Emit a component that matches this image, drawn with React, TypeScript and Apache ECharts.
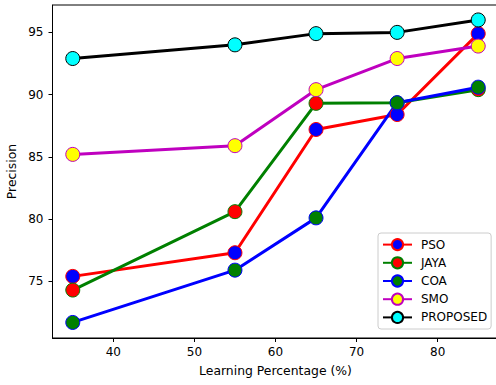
import React, { useEffect, useRef } from "react";
import * as echarts from "echarts";

const learningPct = [35, 55, 65, 75, 85];
const psoValues = [75.4, 77.3, 87.2, 88.4, 94.9];
const jayaValues = [74.3, 80.6, 89.3, 89.35, 90.4];
const coaValues = [71.7, 75.9, 80.1, 89.35, 90.6];
const smoValues = [85.2, 85.9, 90.4, 92.9, 93.9];
const proposedValues = [92.9, 94.0, 94.9, 95.0, 96.0];
const xTicks = [40, 50, 60, 70, 80];
const yTicks = [75, 80, 85, 90, 95];

const seriesDefs = [
  { name: "PSO", data: psoValues, line: "#ff0000", fill: "#0000ff" },
  { name: "JAYA", data: jayaValues, line: "#008000", fill: "#ff0000" },
  { name: "COA", data: coaValues, line: "#0000ff", fill: "#008000" },
  { name: "SMO", data: smoValues, line: "#bf00bf", fill: "#ffff00" },
  { name: "PROPOSED", data: proposedValues, line: "#000000", fill: "#00ffff" },
];

const FONT = "DejaVu Sans";

export default function App() {
  const ref = useRef<HTMLDivElement>(null);
  useEffect(() => {
    if (!ref.current) return;
    const chart = echarts.init(ref.current, undefined, { renderer: "svg" });
    chart.setOption({
      animation: false,
      backgroundColor: "#ffffff",
      textStyle: { fontFamily: FONT },
      grid: {
        left: 52.5,
        right: -2.5,
        top: 5,
        bottom: 47,
        containLabel: false,
        outerBoundsMode: "none",
        show: true,
        borderColor: "#000",
        borderWidth: 1,
        backgroundColor: "transparent",
      },
      xAxis: {
        type: "value",
        min: 32.5,
        max: 87.5,
        name: "Learning Percentage (%)",
        nameLocation: "middle",
        nameGap: 26.5,
        nameTextStyle: { color: "#000", fontSize: 12.4, fontFamily: FONT },
        axisLine: { show: true, lineStyle: { color: "#000", width: 1 } },
        axisTick: { show: true, length: 4, lineStyle: { color: "#000" }, customValues: xTicks },
        axisLabel: { color: "#000", fontSize: 12, fontFamily: FONT, margin: 8, customValues: xTicks },
        splitLine: { show: false },
      },
      yAxis: {
        type: "value",
        min: 70.45,
        max: 97.2,
        name: "Precision",
        nameLocation: "middle",
        nameGap: 28,
        nameTextStyle: { color: "#000", fontSize: 12.4, fontFamily: FONT },
        axisLine: { show: true, lineStyle: { color: "#000", width: 1 } },
        axisTick: { show: true, length: 4, lineStyle: { color: "#000" }, customValues: yTicks },
        axisLabel: { color: "#000", fontSize: 12, fontFamily: FONT, margin: 9, customValues: yTicks },
        splitLine: { show: false },
      },
      legend: {
        orient: "vertical",
        left: 378,
        top: 233,
        padding: [5, 4, 5, 4],
        itemGap: 5,
        itemWidth: 29,
        itemHeight: 14,
        backgroundColor: "rgba(255,255,255,0.8)",
        borderColor: "#cccccc",
        borderWidth: 1,
        borderRadius: 3,
        textStyle: { color: "#000", fontSize: 12, fontFamily: FONT, padding: [0, 0, 0, 4] },
        data: seriesDefs.map((s) => s.name),
      },
      series: seriesDefs.map((s) => ({
        name: s.name,
        type: "line",
        data: learningPct.map((x, i) => [x, s.data[i]]),
        symbol: "circle",
        symbolSize: 14,
        showAllSymbol: true,
        lineStyle: { color: s.line, width: 3 },
        itemStyle: { color: s.fill, borderColor: s.line, borderWidth: 1 },
        emphasis: { disabled: true },
      })),
    });
    return () => chart.dispose();
  }, []);
  return (
    <div
      ref={ref}
      style={{ position: "fixed", left: 0, top: 0, width: 496, height: 385 }}
    />
  );
}
